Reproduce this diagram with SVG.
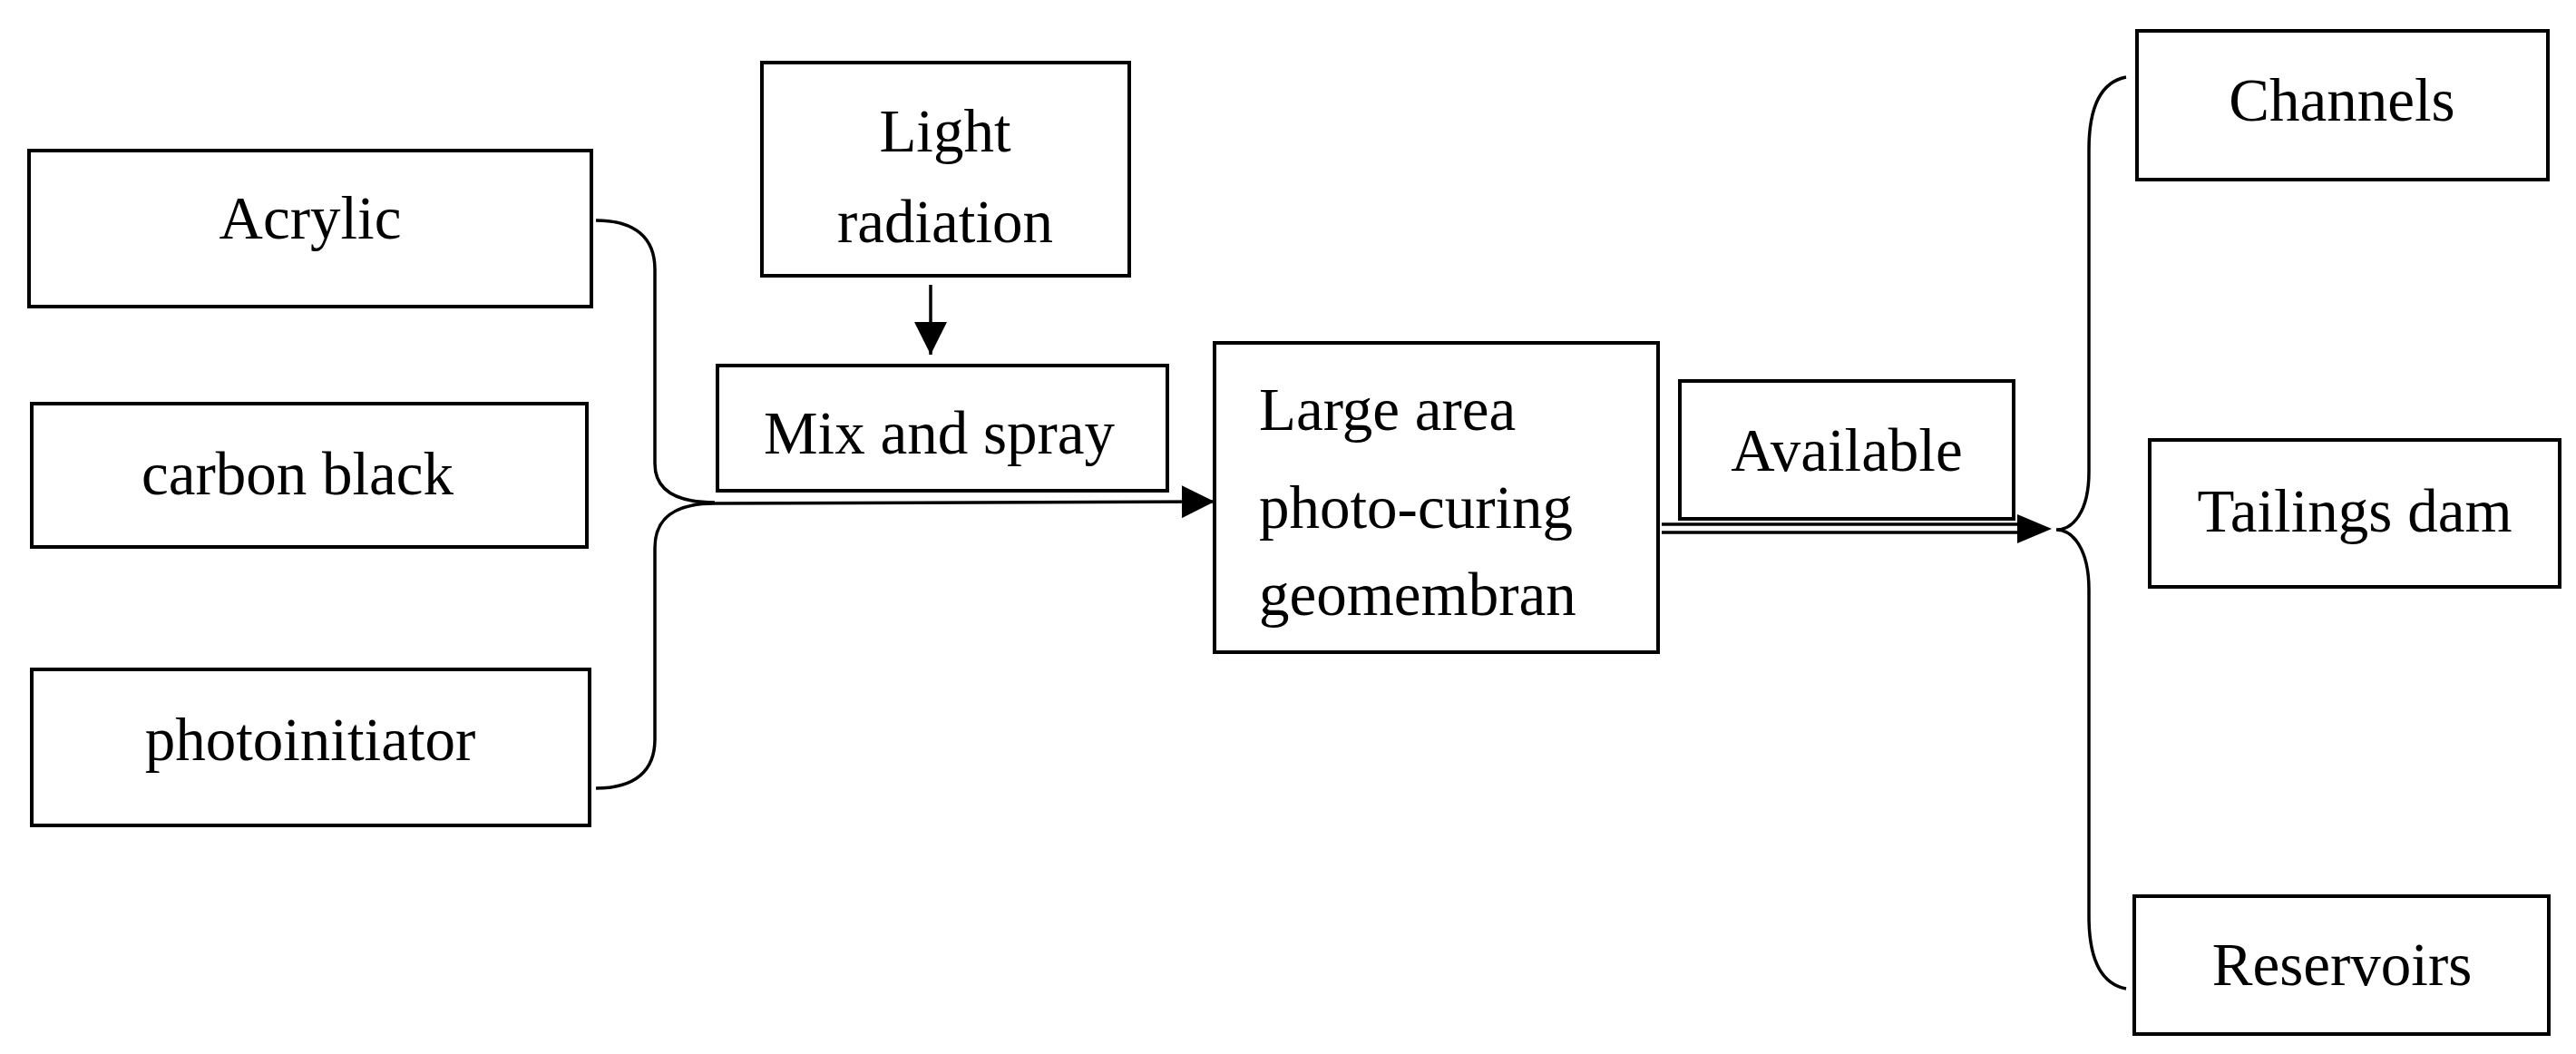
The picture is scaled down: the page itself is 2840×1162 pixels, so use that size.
<svg xmlns="http://www.w3.org/2000/svg" width="2840" height="1162" viewBox="0 0 2840 1162">
<style>
rect{fill:#fff;stroke:#000;stroke-width:4}
text{font-family:"Liberation Serif",serif;font-size:67px;fill:#000}
.c{text-anchor:middle}
.ln{fill:none;stroke:#000;stroke-width:3.5}
</style>
<defs>
<marker id="ah2" viewBox="0 0 10 10" refX="10" refY="5" markerWidth="36" markerHeight="36" orient="auto" markerUnits="userSpaceOnUse"><path d="M0,0L10,5L0,10z" fill="#000"/></marker>
</defs>
<rect x="0" y="0" width="2840" height="1162" style="stroke:none"/>
<g id="acrylic"><rect x="32" y="166" width="620" height="172"/><text class="c" x="342" y="263">Acrylic</text></g>
<g id="carbon"><rect x="35" y="445" width="612" height="158"/><text class="c" x="328" y="545">carbon black</text></g>
<g id="photo"><rect x="35" y="738" width="615" height="172"/><text class="c" x="342" y="838">photoinitiator</text></g>
<g id="light"><rect x="840" y="69" width="405" height="235"/><text class="c" x="1042" y="167">Light</text><text class="c" x="1042" y="267">radiation</text></g>
<g id="mix"><rect x="791" y="403" width="496" height="138"/><text x="842" y="500">Mix and spray</text></g>
<g id="large"><rect x="1339" y="378" width="489" height="341"/><text x="1388" y="474">Large area</text><text x="1388" y="582">photo-curing</text><text x="1388" y="678">geomembran</text></g>
<g id="available"><rect x="1852" y="420" width="368" height="152"/><text class="c" x="2036" y="519">Available</text></g>
<g id="channels"><rect x="2356" y="34" width="453" height="164"/><text class="c" x="2582" y="133">Channels</text></g>
<g id="tailings"><rect x="2370" y="485" width="452" height="162"/><text class="c" x="2596" y="586">Tailings dam</text></g>
<g id="reservoirs"><rect x="2353" y="988" width="457" height="152"/><text class="c" x="2582" y="1086">Reservoirs</text></g>
<g id="connectors">
<path class="ln" d="M657,243 C700,243 722,262 722,297 L722,511 C722,540 745,554 788,554"/>
<path class="ln" d="M657,869 C700,869 722,850 722,815 L722,604 C722,570 745,555 788,555"/>
<path class="ln" d="M788,555 L1339,553" marker-end="url(#ah2)"/>
<path class="ln" d="M1026,314 L1026,391" marker-end="url(#ah2)"/>
<path class="ln" d="M1832,578 L2230,578"/>
<path class="ln" d="M1832,587 L2230,587"/>
<path fill="#000" d="M2224,567 L2262,583 L2224,599z"/>
<path class="ln" d="M2344,85 C2318,90 2303,115 2303,165 L2303,520 C2303,565 2285,584 2267,584 C2285,584 2303,605 2303,650 L2303,1010 C2303,1060 2318,1085 2344,1090"/>
</g>
</svg>
